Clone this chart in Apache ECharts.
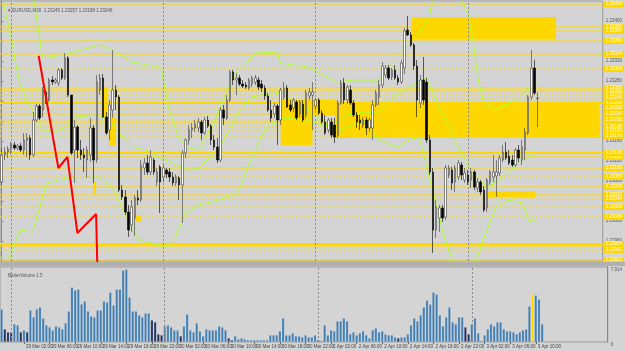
<!DOCTYPE html>
<html>
<head>
<meta charset="utf-8">
<script src="https://cdn.jsdelivr.net/npm/echarts/dist/echarts.min.js"></script>
<style>
  html, body { margin: 0; padding: 0; background: #d4d4d4; }
  #chart { width: 625px; height: 351px; }
</style>
</head>
<body>
<div id="chart"></div>
<script>
const symbol = 'EURUSD,M30'
const lastQuote = [1.23245, 1.23257, 1.23188, 1.23246]
const volumeName = 'BetterVolume 1.5'

// one row per 30 min bar: open, high, low, close
const ohlc = [
  [1.23078,1.23146,1.23072,1.23132],[1.23132,1.23148,1.23122,1.23138],[1.23138,1.23150,1.23126,1.23144],
  [1.23144,1.23158,1.23134,1.23152],[1.23152,1.23158,1.23142,1.23146],[1.23146,1.23154,1.23142,1.23150],
  [1.23150,1.23156,1.23138,1.23142],[1.23142,1.23176,1.23132,1.23162],[1.23162,1.23176,1.23128,1.23166],
  [1.23166,1.23172,1.23122,1.23132],[1.23132,1.23218,1.23128,1.23202],[1.23202,1.23234,1.23198,1.23230],
  [1.23230,1.23234,1.23202,1.23206],[1.23222,1.23268,1.23208,1.23262],[1.23258,1.23262,1.23234,1.23242],
  [1.23242,1.23286,1.23238,1.23282],[1.23282,1.23290,1.23272,1.23278],[1.23278,1.23286,1.23274,1.23282],
  [1.23276,1.23306,1.23270,1.23302],[1.23302,1.23306,1.23282,1.23286],[1.23286,1.23336,1.23282,1.23326],
  [1.23326,1.23330,1.23248,1.23252],[1.23252,1.23252,1.23132,1.23136],[1.23142,1.23202,1.23076,1.23188],
  [1.23188,1.23192,1.23126,1.23142],[1.23142,1.23162,1.23122,1.23132],[1.23132,1.23146,1.23098,1.23126],
  [1.23122,1.23150,1.23086,1.23142],[1.23132,1.23206,1.23118,1.23186],[1.23186,1.23192,1.23076,1.23122],
  [1.23122,1.23292,1.23116,1.23278],[1.23262,1.23294,1.23252,1.23286],[1.23286,1.23294,1.23206,1.23208],
  [1.23208,1.23218,1.23172,1.23176],[1.23182,1.23242,1.23162,1.23232],[1.23222,1.23342,1.23206,1.23262],
  [1.23262,1.23272,1.23222,1.23248],[1.23248,1.23252,1.23058,1.23062],[1.23062,1.23072,1.23042,1.23048],
  [1.23048,1.23062,1.23012,1.23018],[1.23018,1.23032,1.22968,1.22982],[1.22992,1.23042,1.22978,1.23028],
  [1.23006,1.23052,1.22970,1.23046],[1.23046,1.23062,1.23032,1.23042],[1.23042,1.23122,1.23038,1.23112],
  [1.23106,1.23126,1.23092,1.23116],[1.23116,1.23132,1.23092,1.23098],[1.23098,1.23142,1.23092,1.23128],
  [1.23122,1.23126,1.23092,1.23098],[1.23078,1.23106,1.23070,1.23098],[1.23108,1.23112,1.23016,1.23078],
  [1.23088,1.23112,1.23078,1.23106],[1.23102,1.23106,1.23086,1.23094],[1.23098,1.23106,1.23078,1.23088],
  [1.23088,1.23098,1.23070,1.23076],[1.23076,1.23094,1.23070,1.23088],[1.23086,1.23090,1.23042,1.23072],
  [1.23072,1.23142,1.22996,1.23136],[1.23136,1.23166,1.23126,1.23162],[1.23162,1.23192,1.23152,1.23182],
  [1.23182,1.23196,1.23166,1.23186],[1.23186,1.23202,1.23178,1.23194],[1.23186,1.23206,1.23178,1.23198],
  [1.23198,1.23202,1.23162,1.23176],[1.23176,1.23208,1.23172,1.23202],[1.23202,1.23210,1.23186,1.23190],
  [1.23190,1.23194,1.23152,1.23162],[1.23162,1.23172,1.23142,1.23148],[1.23148,1.23166,1.23116,1.23122],
  [1.23122,1.23228,1.23118,1.23222],[1.23222,1.23232,1.23192,1.23206],[1.23206,1.23252,1.23202,1.23242],
  [1.23242,1.23302,1.23238,1.23298],[1.23298,1.23302,1.23272,1.23282],[1.23282,1.23296,1.23252,1.23286],
  [1.23286,1.23292,1.23270,1.23274],[1.23274,1.23282,1.23266,1.23270],[1.23272,1.23278,1.23264,1.23268],
  [1.23266,1.23286,1.23262,1.23282],[1.23274,1.23290,1.23268,1.23286],[1.23278,1.23292,1.23272,1.23286],
  [1.23282,1.23288,1.23262,1.23268],[1.23274,1.23282,1.23258,1.23266],[1.23266,1.23272,1.23242,1.23250],
  [1.23250,1.23256,1.23218,1.23222],[1.23222,1.23242,1.23198,1.23206],[1.23214,1.23236,1.23206,1.23230],
  [1.23230,1.23234,1.23152,1.23202],[1.23202,1.23266,1.23192,1.23262],[1.23248,1.23278,1.23242,1.23266],
  [1.23266,1.23272,1.23226,1.23228],[1.23232,1.23242,1.23218,1.23222],[1.23226,1.23246,1.23218,1.23242],
  [1.23238,1.23242,1.23202,1.23206],[1.23214,1.23242,1.23208,1.23238],[1.23234,1.23242,1.23198,1.23202],
  [1.23212,1.23262,1.23206,1.23256],[1.23250,1.23266,1.23242,1.23258],[1.23252,1.23278,1.23182,1.23258],
  [1.23230,1.23246,1.23222,1.23242],[1.23242,1.23246,1.23212,1.23216],[1.23216,1.23222,1.23194,1.23198],
  [1.23198,1.23212,1.23172,1.23176],[1.23182,1.23206,1.23176,1.23202],[1.23198,1.23206,1.23166,1.23172],
  [1.23192,1.23206,1.23156,1.23168],[1.23172,1.23242,1.23166,1.23236],[1.23236,1.23282,1.23232,1.23276],
  [1.23276,1.23286,1.23234,1.23242],[1.23242,1.23272,1.23234,1.23268],[1.23262,1.23272,1.23232,1.23236],
  [1.23236,1.23242,1.23208,1.23212],[1.23212,1.23218,1.23186,1.23198],[1.23202,1.23212,1.23182,1.23196],
  [1.23192,1.23208,1.23186,1.23202],[1.23202,1.23208,1.23172,1.23186],[1.23186,1.23206,1.23178,1.23202],
  [1.23186,1.23242,1.23162,1.23232],[1.23232,1.23262,1.23228,1.23256],[1.23248,1.23282,1.23232,1.23272],
  [1.23272,1.23318,1.23266,1.23310],[1.23292,1.23312,1.23286,1.23306],[1.23306,1.23312,1.23282,1.23286],
  [1.23288,1.23306,1.23282,1.23302],[1.23302,1.23312,1.23282,1.23286],[1.23286,1.23292,1.23272,1.23278],
  [1.23278,1.23322,1.23274,1.23316],[1.23306,1.23386,1.23294,1.23380],[1.23382,1.23410,1.23370,1.23372],
  [1.23372,1.23378,1.23348,1.23352],[1.23352,1.23356,1.23302,1.23310],[1.23310,1.23322,1.23208,1.23242],
  [1.23236,1.23292,1.23226,1.23282],[1.23282,1.23328,1.23232,1.23242],[1.23278,1.23286,1.23156,1.23162],
  [1.23162,1.23172,1.23092,1.23098],[1.23098,1.23106,1.22936,1.22982],[1.22982,1.23042,1.22966,1.23028],
  [1.23006,1.23032,1.22978,1.23026],[1.23026,1.23032,1.22998,1.23006],[1.23008,1.23112,1.23002,1.23106],
  [1.23092,1.23112,1.23086,1.23106],[1.23102,1.23108,1.23062,1.23076],[1.23078,1.23112,1.23058,1.23106],
  [1.23088,1.23122,1.23082,1.23116],[1.23112,1.23118,1.23082,1.23092],[1.23082,1.23106,1.23076,1.23096],
  [1.23092,1.23102,1.23072,1.23078],[1.23082,1.23106,1.23066,1.23098],[1.23098,1.23102,1.23062,1.23068],
  [1.23066,1.23086,1.23058,1.23078],[1.23078,1.23082,1.23052,1.23058],[1.23062,1.23070,1.23018,1.23022],
  [1.23026,1.23086,1.23018,1.23082],[1.23078,1.23102,1.23072,1.23098],[1.23088,1.23132,1.23078,1.23098],
  [1.23090,1.23122,1.23048,1.23098],[1.23096,1.23132,1.23090,1.23126],[1.23122,1.23152,1.23118,1.23138],
  [1.23138,1.23158,1.23122,1.23126],[1.23130,1.23142,1.23112,1.23116],[1.23122,1.23132,1.23108,1.23112],
  [1.23112,1.23146,1.23108,1.23142],[1.23142,1.23152,1.23118,1.23126],[1.23122,1.23162,1.23112,1.23148],
  [1.23142,1.23186,1.23122,1.23178],[1.23176,1.23252,1.23172,1.23248],[1.23248,1.23342,1.23242,1.23306],
  [1.23306,1.23322,1.23252,1.23256],[1.23245,1.23257,1.23188,1.23246]
]

const volumes = [
  3465,1365,1050,1050,1890,1785,1050,1260,1050,3360,
  2625,3465,3675,2520,1785,1575,1260,1680,1575,1365,
  1995,3255,5775,5460,5565,3990,4305,3255,2730,2625,
  3360,3360,4305,4200,5250,3885,5565,5565,7560,7665,
  4725,3255,3255,2835,2625,3045,3045,2310,2100,840,
  735,1680,1785,1575,1260,1260,630,1680,2940,1260,
  1050,1995,1155,630,1365,1260,1260,1260,1680,1575,
  1260,420,210,630,315,420,315,210,210,210,
  210,210,210,210,735,735,735,1155,2520,735,
  735,945,630,630,525,735,525,525,735,210,
  105,1785,735,1260,1155,2205,2205,2520,2205,840,
  1050,735,945,1155,735,420,1260,1470,1050,1155,
  840,735,735,525,420,525,525,840,1785,2520,
  2205,2835,3675,4410,3990,5250,5040,2835,1680,2625,
  3675,2100,1890,2625,2625,1575,840,1890,2520,945,
  105,735,1365,1890,1680,2100,2100,1365,1155,1155,
  1050,840,1050,1260,1365,3780,5040,4935,4515,1890
]
const volumeMax = 7914
const lowVolumeBars = [1,2,3,6,8,47,48,49,50,56,71,72,99,100,124,145,146,150]
const climaxBars = [166]

const xTickLabels = ['28 Mar 2018','29 Mar 02:00','29 Mar 06:00','29 Mar 10:00','29 Mar 14:00',
  '29 Mar 18:00','29 Mar 22:00','30 Mar 02:00','30 Mar 06:00','30 Mar 10:00','30 Mar 14:00',
  '30 Mar 18:00','30 Mar 22:00','2 Apr 02:00','2 Apr 06:00','2 Apr 10:00','2 Apr 14:00',
  '2 Apr 18:00','2 Apr 22:00','3 Apr 02:00','3 Apr 06:00','3 Apr 10:00']
const dayStarts = [3, 51, 99, 147]

// horizontal price levels
const solidLevels = [1.23434,1.23388,1.23380,1.23360,1.23334,1.23266,1.23260,1.23214,1.23198,
  1.23128,1.23106,1.23068,1.23052,1.22950,1.22922]
const majorLevels = [1.23236,1.23136,1.22954]
const dashedLevels = [1.23304,1.23252,1.23246,1.23226,1.23202,1.23188,1.23180,1.23170,
  1.23088,1.23044,1.23028,1.23008,1.22942]

// zones: from bar, to bar, top price, bottom price
const zones = [
  [129.2,174.8,1.23408,1.23364],
  [88,98,1.23242,1.23152],
  [98,105.1,1.23242,1.23212],
  [105.1,188.6,1.23238,1.23166],
  [32.3,33.3,1.23268,1.23206],
  [33.9,36.0,1.23206,1.23150],
  [28.9,29.8,1.23078,1.23054],
  [42.3,43.9,1.23012,1.22998],
  [153.3,168.3,1.23060,1.23048]
]

const zigzag = [[11.7,1.23330],[17.9,1.23106],[20.75,1.23128],[23.9,1.22976],[29.8,1.23014],[30.4,1.22850]]

const bandUpper = [[9.8,1.23462],[12.9,1.23326],[19.2,1.23332],[30.75,1.23352],[36.1,1.23338],[41.1,1.23318],
  [49.5,1.23308],[50.4,1.23302],[52.6,1.23228],[55.75,1.23168],[57.9,1.23148],[62,1.23142],[66.7,1.23192],
  [71.4,1.23266],[74.5,1.23302],[80.75,1.23338],[87,1.23336],
  [87.9,1.23316],[96.4,1.23308],[105.75,1.23278],[111.1,1.23282],[119.2,1.23282],[122.3,1.23312],
  [126.7,1.23342],[130.75,1.23366],[134.8,1.23408],[136.4,1.23462],[143.25,1.23462],[147,1.23416],
  [148.6,1.23362],[150.1,1.23288],[151.7,1.23242],[155.75,1.23222],[162,1.23242],[169.2,1.23282]]
const bandMiddle = [[0.44,1.23438],[3.25,1.23362],[4.2,1.23322],[5.75,1.23276],[7.9,1.23242],[9.8,1.23222],
  [11.4,1.23202],[12.9,1.23182],[17.3,1.23182],[20.4,1.23188],[23.6,1.23208],[29.8,1.23212],[33.9,1.23202],
  [37,1.23176],[41.1,1.23148],[45.4,1.23142],[49.5,1.23128],[53.6,1.23116],[58.9,1.23102],[62,1.23106],
  [68.3,1.23142],[74.5,1.23216],[78.6,1.23248],[87.9,1.23258],[96.4,1.23222],[103.6,1.23188],
  [108.9,1.23212],[114.2,1.23218],[118.3,1.23216],[122.3,1.23242],[130.8,1.23276],[133.9,1.23286],
  [137.9,1.23228],[143.3,1.23156],[147.3,1.23108],[150.4,1.23082],[153.6,1.23068],[157.9,1.23088],
  [164.2,1.23122],[168.3,1.23136]]
const bandLower = [[-0.5,1.22928],[2.6,1.22926],[5.75,1.22982],[9.8,1.22978],[14.2,1.23076],[20.4,1.23086],
  [30.75,1.23088],[34.8,1.23068],[41.1,1.22988],[43.25,1.22962],[51.7,1.22948],[54.8,1.22968],
  [57.9,1.23016],[62,1.23032],[68.25,1.23042],[74.5,1.23056],[77.6,1.23108],[82.9,1.23182],
  [87.9,1.23206],[96.4,1.23202],[105.75,1.23182],[114.2,1.23198],[119.2,1.23162],[124.5,1.23148],
  [128.6,1.23162],[131.7,1.23168],[139.2,1.22976],[142.3,1.22918],[149.5,1.22918],[152.6,1.22976],
  [155.75,1.23028],[159.8,1.23042],[164.2,1.23036],[166.1,1.23002],[169.2,1.22998]]

const slots = 190   // bar slots incl. the empty space on the right
const cats = Array.from({length: slots}, (_, i) => String(i))
const tickAt = {}
xTickLabels.forEach((t, k) => { tickAt[k === 0 ? 0 : 7 + 8 * (k - 1)] = t })

const font = 'Liberation Sans'
const gold = '#ffd700'

// kind: 0 solid, 1 thick, 2 dashed
let levelData = []
solidLevels.forEach(v => levelData.push([0, v, 0]))
majorLevels.forEach(v => levelData.push([0, v, 1]))
dashedLevels.forEach(v => levelData.push([0, v, 2]))

function renderLevel(params, api) {
    let cs = params.coordSys
    let y = api.coord([0, api.value(1)])[1]
    let kind = api.value(2)
    return {
        type: 'group',
        children: [
            {
                type: 'line',
                shape: {x1: cs.x, y1: y, x2: cs.x + cs.width, y2: y},
                style: {stroke: gold, lineWidth: kind === 1 ? 2 : 1, lineDash: kind === 2 ? [2, 2] : null}
            },
            {
                type: 'text', z2: 10,
                style: {
                    text: api.value(1).toFixed(5), x: cs.x + cs.width + 1, y: y,
                    verticalAlign: 'middle', fill: '#fbfbf0', font: '4.5px ' + font,
                    backgroundColor: gold, padding: [1, 2, 0, 2]
                }
            }
        ]
    }
}

let volData = volumes.map((v, i) => {
    let c = '#3f7cb0'
    if (lowVolumeBars.includes(i)) c = '#1f2d5c'
    if (climaxBars.includes(i)) c = gold
    return {value: v, itemStyle: {color: c}}
})

let chart = echarts.init(document.getElementById('chart'))
chart.setOption({
    animation: false,
    backgroundColor: '#d4d4d4',
    textStyle: {fontFamily: font},
    title: [
        {
            text: '▾ ' + symbol + '  ' + lastQuote.map(v => v.toFixed(5)).join(' '),
            left: 3, top: 3,
            textStyle: {fontSize: 4.5, fontWeight: 'normal', color: '#555', fontFamily: font}
        },
        {
            text: volumeName,
            left: 3, top: 268,
            textStyle: {fontSize: 4.5, fontWeight: 'normal', color: '#555', fontFamily: font}
        }
    ],
    grid: [
        {left: 0, right: 17, top: 1, height: 260, show: true, borderColor: '#9a9a9a', borderWidth: 1, backgroundColor: '#d4d4d4'},
        {left: 0, right: 17, top: 267, height: 75, show: true, borderColor: '#9a9a9a', borderWidth: 1, backgroundColor: '#d4d4d4'}
    ],
    graphic: [
        {type: 'rect', shape: {x: 0, y: 262, width: 625, height: 4}, style: {fill: '#b0b0b0'}, z: 100}
    ],
    xAxis: [
        {type: 'category', gridIndex: 0, data: cats, boundaryGap: true, show: false},
        {type: 'value', gridIndex: 0, min: -0.5, max: slots - 0.5, show: false},
        {
            type: 'category', gridIndex: 1, data: cats, boundaryGap: true,
            axisLine: {show: false},
            axisTick: {show: true, interval: (i) => tickAt[i] !== undefined, length: 2, lineStyle: {color: '#666'}, alignWithLabel: true},
            axisLabel: {
                interval: (i) => tickAt[i] !== undefined,
                formatter: (v, i) => tickAt[i] || '',
                fontSize: 4.5, color: '#444', align: 'left', margin: 2, padding: [0, 0, 0, 2]
            }
        }
    ],
    yAxis: [
        {
            type: 'value', gridIndex: 0, position: 'right',
            min: 1.2292, max: 1.2344, interval: 0.0004,
            axisLine: {show: true, lineStyle: {color: '#888'}},
            axisTick: {show: true, length: 2, lineStyle: {color: '#888'}},
            splitLine: {show: false},
            axisLabel: {fontSize: 4.5, color: '#555', margin: 3, formatter: v => v.toFixed(5), showMinLabel: false, showMaxLabel: false}
        },
        {
            type: 'value', gridIndex: 1, position: 'right',
            min: 0, max: volumeMax, interval: volumeMax,
            axisLine: {show: true, lineStyle: {color: '#888'}},
            axisTick: {show: false},
            splitLine: {show: false},
            axisLabel: {fontSize: 4.5, color: '#555', margin: 3, verticalAlign: 'top'}
        }
    ],
    series: [
        {
            name: 'zones', type: 'line', xAxisIndex: 1, yAxisIndex: 0, data: [], z: 1,
            markArea: {
                silent: true,
                itemStyle: {color: gold, opacity: 1},
                data: zones.map(z => [{xAxis: z[0], yAxis: z[2]}, {xAxis: z[1], yAxis: z[3]}])
            }
        },
        {
            name: 'levels', type: 'custom', xAxisIndex: 1, yAxisIndex: 0, z: 2, clip: false, silent: true,
            data: levelData, renderItem: renderLevel
        },
        {
            name: 'days', type: 'line', xAxisIndex: 1, yAxisIndex: 0, data: [], z: 3,
            markLine: {
                silent: true,
                symbol: ['none', 'none'],
                label: {show: false},
                lineStyle: {color: '#8a8a8a', type: [2, 2], width: 1},
                data: dayStarts.map(d => ({xAxis: d}))
            }
        },
        {name: 'upper', type: 'line', xAxisIndex: 1, yAxisIndex: 0, data: bandUpper, showSymbol: false, z: 4,
            lineStyle: {color: '#adff2f', width: 1}},
        {name: 'middle', type: 'line', xAxisIndex: 1, yAxisIndex: 0, data: bandMiddle, showSymbol: false, z: 4,
            lineStyle: {color: '#adff2f', width: 1}},
        {name: 'lower', type: 'line', xAxisIndex: 1, yAxisIndex: 0, data: bandLower, showSymbol: false, z: 4,
            lineStyle: {color: '#adff2f', width: 1}},
        {
            name: 'price', type: 'candlestick', xAxisIndex: 0, yAxisIndex: 0, z: 5,
            barWidth: 2,
            data: ohlc.map(r => [r[0], r[3], r[2], r[1]]),
            itemStyle: {color: '#ffffff', color0: '#000000', borderColor: '#3a3a3a', borderColor0: '#000000', borderWidth: 0.6}
        },
        {name: 'zigzag', type: 'line', xAxisIndex: 1, yAxisIndex: 0, data: zigzag, showSymbol: false, z: 6,
            lineStyle: {color: '#ff0000', width: 2}},
        {
            name: 'volume', type: 'bar', xAxisIndex: 2, yAxisIndex: 1, data: volData, barWidth: 2.6,
            itemStyle: {borderColor: 'rgba(235,242,250,0.6)', borderWidth: 0.4},
            markLine: {
                silent: true,
                symbol: ['none', 'none'],
                label: {show: false},
                lineStyle: {color: '#8a8a8a', type: [2, 2], width: 1},
                data: dayStarts.map(d => ({xAxis: d}))
            }
        }
    ]
})
</script>
</body>
</html>
